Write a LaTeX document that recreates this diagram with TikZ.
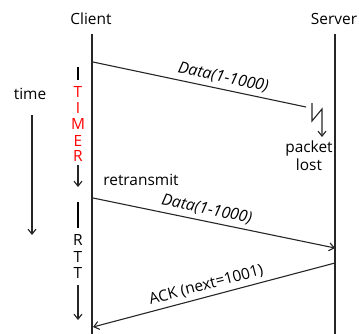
\documentclass[tikz,border=0pt]{standalone}
\usepackage{fontspec}
\setmainfont{Open Sans}
\usetikzlibrary{arrows.meta}
\begin{document}
\begin{tikzpicture}[x=1bp,y=-1bp,
  lbl/.style={font=\fontsize{15.5}{17}\selectfont, inner sep=0pt},
  ilbl/.style={lbl, font=\fontsize{16}{18}\selectfont\itshape},
  msg/.style={line width=1.1bp, draw=black!85},
  msgarrow/.style={msg, -{Straight Barb[length=5bp,width=8bp]}},
  life/.style={line width=1.3bp, draw=black!85},
  redtxt/.style={lbl, text=red},
  bar/.style={line width=1.1bp}
]
\useasboundingbox (0,0) rectangle (359,334);
% labels
\node[lbl] (client) at (91,19) {Client};
\node[lbl] (server) at (334,19) {Server};
\node[lbl] (time) at (30,94) {time};
% lifelines
\coordinate (ctop) at (92,34); \coordinate (cbot) at (92,334);
\coordinate (stop) at (335,34); \coordinate (sbot) at (335,334);
\draw[life] (ctop) -- (cbot);
\draw[life] (stop) -- (sbot);
% time arrow
\coordinate (t1) at (32,115); \coordinate (t2) at (32,235);
\draw[msgarrow] (t1) -- (t2);
% first data
\coordinate (d1s) at (93,62); \coordinate (d1e) at (306,107);
\draw[msg] (d1s) -- node[ilbl, sloped, above=4bp, pos=0.6] (d1l) {Data(1-1000)} (d1e);
% lightning
\coordinate (z1) at (312,103); \coordinate (z2) at (312,121);
\coordinate (z3) at (322,109); \coordinate (z4) at (322,137);
\draw[msgarrow] (z1) -- (z2) -- (z3) -- (z4);
\node[lbl] (packet) at (309,148) {packet};
\node[lbl] (lost) at (309,165) {lost};
% TIMER
\coordinate (tm1) at (78,67); \coordinate (tm2) at (78,80);
\draw[bar] (tm1) -- (tm2);
\node[redtxt] (T1) at (78,91.5) {T};
\node[redtxt] (I1) at (78,107.5) {I};
\node[redtxt] (M1) at (78,124) {M};
\node[redtxt] (E1) at (78,140.5) {E};
\node[redtxt] (R1) at (78,156) {R};
\coordinate (tm3) at (78,165); \coordinate (tm4) at (78,187);
\draw[msgarrow] (tm3) -- (tm4);
% retransmit
\node[lbl] (retx) at (141,180) {retransmit};
\coordinate (d2s) at (93,198); \coordinate (d2e) at (335,248);
\draw[msgarrow] (d2s) -- node[ilbl, sloped, above=4bp, pos=0.46] (d2l) {Data(1-1000)} (d2e);
% RTT
\coordinate (r1) at (78,202); \coordinate (r2) at (78,228);
\draw[bar] (r1) -- (r2);
\node[lbl] (R2) at (78,240) {R};
\node[lbl] (T2) at (78,257) {T};
\node[lbl] (T3) at (78,273) {T};
\coordinate (r3) at (78,285); \coordinate (r4) at (78,320);
\draw[msgarrow] (r3) -- (r4);
% ACK
\coordinate (as) at (335,263); \coordinate (ae) at (93,327);
\draw[msgarrow] (as) -- node[lbl, sloped, above=4bp, pos=0.52] (al) {ACK (next=1001)} (ae);
\end{tikzpicture}
\end{document}
